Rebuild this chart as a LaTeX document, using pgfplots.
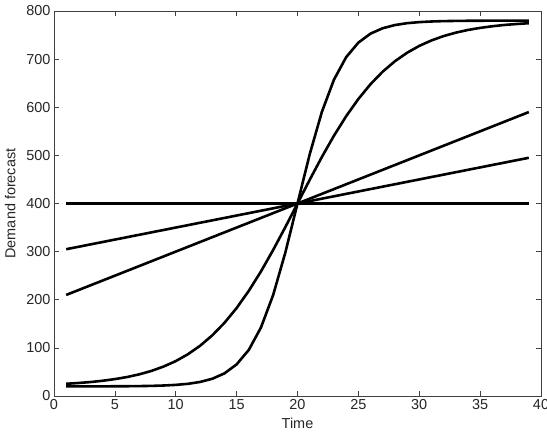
\documentclass[border=0pt]{standalone}
\usepackage{pgfplots}
\pgfplotsset{compat=1.18}
\usepackage{fontspec}
\setmainfont{Liberation Sans}
\tikzset{myline/.style={black, line width=2.6pt, line join=round, mark=none}}
\begin{document}
\begin{tikzpicture}[x=1bp,y=1bp]
\begin{axis}[
  at={(0,0)}, anchor=south west,
  scale only axis,
  width=487bp, height=385bp,
  xmin=0, xmax=40, ymin=0, ymax=800,
  xtick={0,5,...,40}, ytick={0,100,...,800},
  tick align=inside,
  major tick length=5bp,
  axis line style={draw=black!75, line width=0.8pt},
  tick style={draw=black!75, line width=0.6pt},
  every tick label/.style={font=\fontsize{14.5}{16}\selectfont, text=black!85},
  /pgf/number format/assume math mode=true,
  xlabel={Time}, ylabel={Demand forecast},
  label style={font=\fontsize{14.5}{16}\selectfont, text=black!85},
  xlabel style={yshift=-1bp},
  ylabel style={yshift=4bp},
]
\addplot[myline] coordinates {(1,400) (39,400)};
\addplot[myline] coordinates {(1,305) (39,495)};
\addplot[myline] coordinates {(1,210) (39,590)};
\addplot[myline] coordinates {
(1,20.0) (2,20.0) (3,20.1) (4,20.1) (5,20.2) (6,20.3) (7,20.6) (8,21.0) (9,21.8) (10,23.1)
(11,25.3) (12,29.2) (13,35.8) (14,47.0) (15,65.7) (16,95.8) (17,142.4) (18,209.8) (19,298.0) (20,400)
(21,502.0) (22,590.2) (23,657.6) (24,704.2) (25,734.3) (26,753.0) (27,764.2) (28,770.8) (29,774.7) (30,776.9)
(31,778.2) (32,779.0) (33,779.4) (34,779.7) (35,779.8) (36,779.9) (37,779.9) (38,780.0) (39,780.0)};
\addplot[myline] coordinates {
(1,25.4) (2,27.0) (3,29.0) (4,31.7) (5,35.1) (6,39.4) (7,45.0) (8,52.1) (9,61.2) (10,72.5)
(11,86.8) (12,104.4) (13,126.0) (14,152.0) (15,182.8) (16,218.5) (17,258.9) (18,303.4) (19,350.9) (20,400)
(21,449.1) (22,496.6) (23,541.1) (24,581.5) (25,617.2) (26,648.0) (27,674.0) (28,695.6) (29,713.2) (30,727.5)
(31,738.8) (32,747.9) (33,755.0) (34,760.6) (35,764.9) (36,768.3) (37,771.0) (38,773.0) (39,774.6)};
\end{axis}
\pgfresetboundingbox
\path[use as bounding box] (-54bp,-40bp) rectangle (493bp,396bp);
\end{tikzpicture}
\end{document}
